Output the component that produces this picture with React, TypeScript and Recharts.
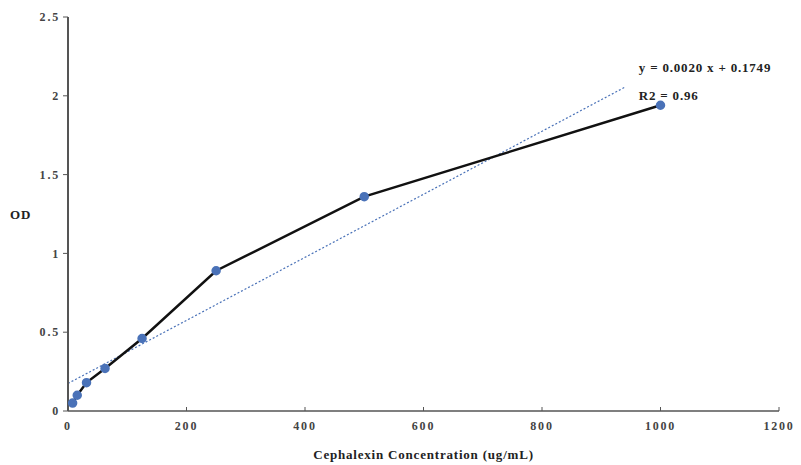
import React from "react";
import {
  LineChart,
  Line,
  XAxis,
  YAxis,
  ReferenceDot,
} from "recharts";

// Cephalexin standard curve: concentration (ug/mL) vs optical density
const concentrations = [7.8, 15.6, 31.25, 62.5, 125, 250, 500, 1000];
const odValues = [0.05, 0.1, 0.18, 0.27, 0.46, 0.89, 1.36, 1.94];

// linear fit as reported on the chart
const fitSlope = 0.002;
const fitIntercept = 0.1749;
const fitRange = [0, 940];
const fitEquation = "y = 0.0020 x + 0.1749";
const fitR2 = "R2 = 0.96";

const xTicks = [0, 200, 400, 600, 800, 1000, 1200];
const yTicks = [0, 0.5, 1, 1.5, 2, 2.5];

const FONT = "'Liberation Serif', 'Times New Roman', serif";
const AXIS_COLOR = "#555";
const POINT_COLOR = "#4a72b8";

const curveData = concentrations.map((c, i) => ({ conc: c, od: odValues[i] }));
const fitData = fitRange.map((c) => ({ conc: c, fit: fitSlope * c + fitIntercept }));

const tickStyle = {
  fontSize: 12,
  fontWeight: 700,
  fill: "#444",
  fontFamily: FONT,
  letterSpacing: 1.8,
};
const labelStyle = {
  fontSize: 13,
  fontWeight: 700,
  fill: "#222",
  fontFamily: FONT,
  letterSpacing: 0.8,
};

const App: React.FC = () => {
  return (
    <div style={{ position: "absolute", left: 0, top: 0, background: "#fff" }}>
      <LineChart
        width={801}
        height={465}
        margin={{ top: 17, right: 22, bottom: 4, left: 10 }}
      >
        <XAxis
          dataKey="conc"
          type="number"
          domain={[0, 1200]}
          ticks={xTicks}
          height={50}
          tick={tickStyle}
          tickSize={-4}
          tickMargin={14}
          axisLine={{ stroke: AXIS_COLOR, strokeWidth: 1.5 }}
          tickLine={{ stroke: AXIS_COLOR }}
          label={{
            value: "Cephalexin Concentration (ug/mL)",
            position: "insideBottom",
            offset: 2,
            style: labelStyle,
          }}
        />
        <YAxis
          type="number"
          domain={[0, 2.5]}
          ticks={yTicks}
          width={58}
          tick={tickStyle}
          tickSize={5}
          tickMargin={3}
          axisLine={{ stroke: AXIS_COLOR, strokeWidth: 2 }}
          tickLine={{ stroke: AXIS_COLOR }}
          label={{ value: "OD", position: "insideLeft", offset: 0, style: labelStyle }}
        />
        <Line
          data={fitData}
          dataKey="fit"
          stroke={POINT_COLOR}
          strokeWidth={1.2}
          strokeDasharray="2 2"
          dot={false}
          activeDot={false}
          isAnimationActive={false}
        />
        <Line
          data={curveData}
          dataKey="od"
          stroke="#111"
          strokeWidth={2.5}
          dot={{ r: 3.5, fill: POINT_COLOR, stroke: POINT_COLOR }}
          activeDot={false}
          isAnimationActive={false}
        />
        <ReferenceDot
          x={955}
          y={2.18}
          r={0}
          stroke="none"
          label={{ value: fitEquation, position: "right", style: labelStyle }}
        />
        <ReferenceDot
          x={955}
          y={2.0}
          r={0}
          stroke="none"
          label={{ value: fitR2, position: "right", style: labelStyle }}
        />
      </LineChart>
    </div>
  );
};

export default App;
